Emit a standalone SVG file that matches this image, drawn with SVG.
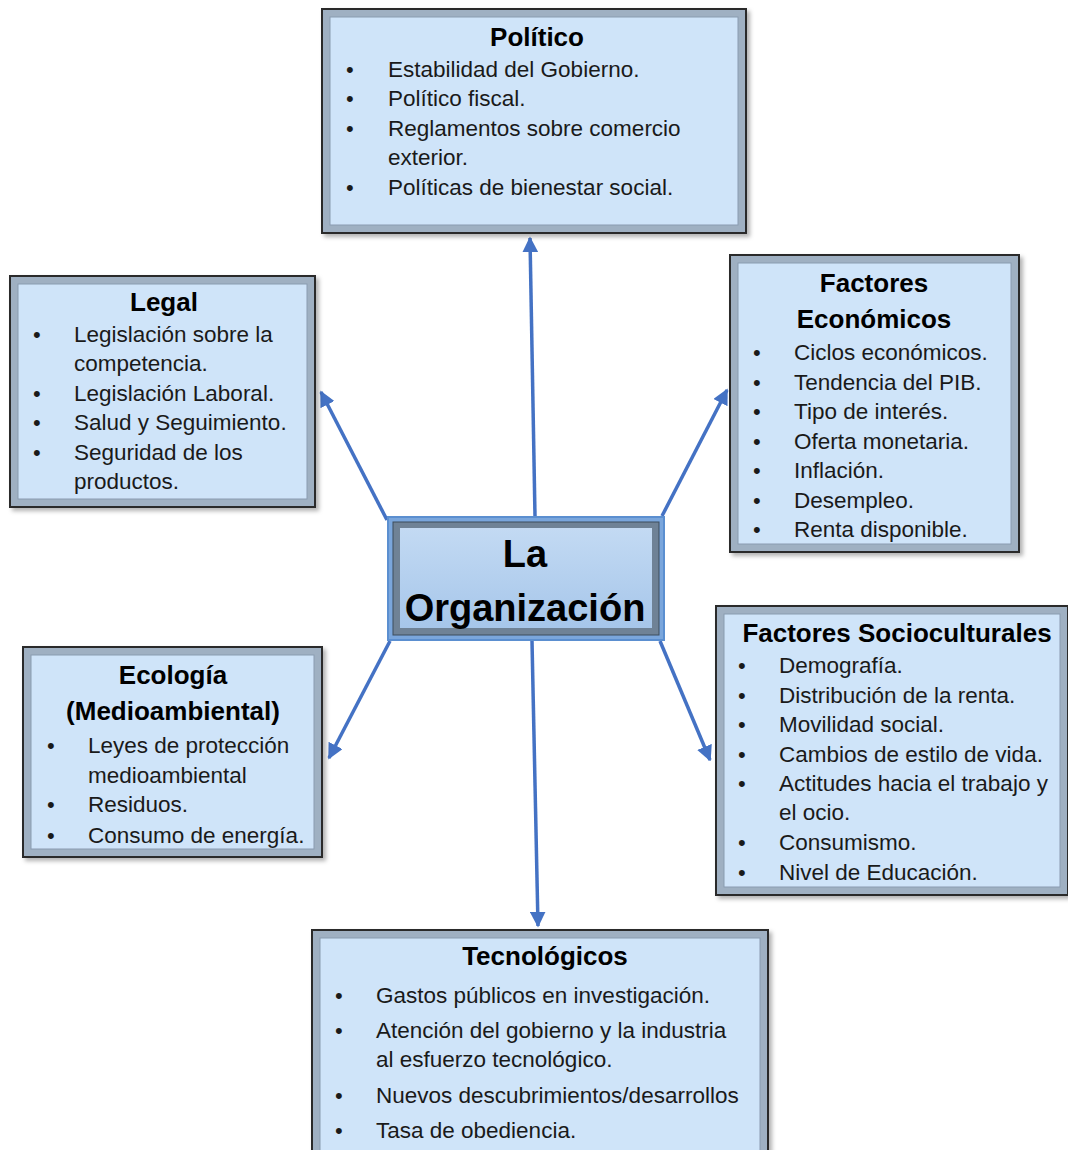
<svg xmlns="http://www.w3.org/2000/svg" width="1068" height="1150" viewBox="0 0 1068 1150">
<defs>
<style>
.outer{fill:#9fb0c2;stroke:#2b2b2b;stroke-width:2}
.inner{fill:#cfe4f9;stroke:#8a9bb0;stroke-width:1}
.t{font-family:"Liberation Sans",Arial,sans-serif;font-size:22.5px;fill:#1a1a1a}
.h{font-family:"Liberation Sans",Arial,sans-serif;font-size:26px;font-weight:bold;fill:#000;text-anchor:middle}
.b{font-family:"Liberation Sans",Arial,sans-serif;font-size:22px;fill:#1a1a1a}
.o{font-family:"Liberation Sans",Arial,sans-serif;font-size:38px;font-weight:bold;fill:#000;text-anchor:middle}
.c{stroke:#4472c4;stroke-width:3.5;fill:none;marker-end:url(#ah)}
</style>
<marker id="ah" viewBox="0 0 10 10" refX="9" refY="5" markerWidth="4.5" markerHeight="4.5" orient="auto" markerUnits="strokeWidth">
<path d="M0,0 L10,5 L0,10 z" fill="#4472c4"/>
</marker>
<linearGradient id="cg" x1="0" y1="0" x2="0" y2="1">
<stop offset="0" stop-color="#c3daf3"/>
<stop offset="1" stop-color="#a6c6ea"/>
</linearGradient>
<filter id="sh" x="-5%" y="-5%" width="112%" height="112%">
<feDropShadow dx="3" dy="3" stdDeviation="2" flood-color="#000" flood-opacity="0.3"/>
</filter>
</defs>
<g id="connectors">
<line class="c" x1="535" y1="516" x2="530" y2="238"/>
<line class="c" x1="387" y1="520" x2="321" y2="392"/>
<line class="c" x1="662" y1="516" x2="727" y2="390"/>
<line class="c" x1="390" y1="641" x2="329" y2="758"/>
<line class="c" x1="660" y1="641" x2="710" y2="760"/>
<line class="c" x1="532" y1="641" x2="538" y2="926"/>
</g>
<g id="politico">
<rect class="outer" x="322" y="9" width="424" height="224" filter="url(#sh)"/>
<rect class="inner" x="330" y="17" width="408" height="208"/>
<text class="h" x="537" y="46">Político</text>
<text class="b" x="346" y="77">•</text><text class="t" x="388" y="77">Estabilidad del Gobierno.</text>
<text class="b" x="346" y="106">•</text><text class="t" x="388" y="106">Político fiscal.</text>
<text class="b" x="346" y="136">•</text><text class="t" x="388" y="136">Reglamentos sobre comercio</text>
<text class="t" x="388" y="165">exterior.</text>
<text class="b" x="346" y="195">•</text><text class="t" x="388" y="195">Políticas de bienestar social.</text>
</g>
<g id="legal">
<rect class="outer" x="10" y="276" width="305" height="231" filter="url(#sh)"/>
<rect class="inner" x="18" y="284" width="289" height="215"/>
<text class="h" x="164" y="311">Legal</text>
<text class="b" x="33" y="342">•</text><text class="t" x="74" y="342">Legislación sobre la</text>
<text class="t" x="74" y="371">competencia.</text>
<text class="b" x="33" y="401">•</text><text class="t" x="74" y="401">Legislación Laboral.</text>
<text class="b" x="33" y="430">•</text><text class="t" x="74" y="430">Salud y Seguimiento.</text>
<text class="b" x="33" y="460">•</text><text class="t" x="74" y="460">Seguridad de los</text>
<text class="t" x="74" y="489">productos.</text>
</g>
<g id="economicos">
<rect class="outer" x="730" y="255" width="289" height="297" filter="url(#sh)"/>
<rect class="inner" x="738" y="263" width="273" height="281"/>
<text class="h" x="874" y="292">Factores</text>
<text class="h" x="874" y="328">Económicos</text>
<text class="b" x="753" y="360">•</text><text class="t" x="794" y="360">Ciclos económicos.</text>
<text class="b" x="753" y="390">•</text><text class="t" x="794" y="390">Tendencia del PIB.</text>
<text class="b" x="753" y="419">•</text><text class="t" x="794" y="419">Tipo de interés.</text>
<text class="b" x="753" y="449">•</text><text class="t" x="794" y="449">Oferta monetaria.</text>
<text class="b" x="753" y="478">•</text><text class="t" x="794" y="478">Inflación.</text>
<text class="b" x="753" y="508">•</text><text class="t" x="794" y="508">Desempleo.</text>
<text class="b" x="753" y="537">•</text><text class="t" x="794" y="537">Renta disponible.</text>
</g>
<g id="organizacion">
<rect x="388" y="517" width="276" height="123" fill="#7aa6dc" stroke="#5b8fd0" stroke-width="2"/>
<rect x="393" y="522" width="266" height="113" fill="#6f8296" stroke="#3d4c5c" stroke-width="1"/>
<rect x="400" y="528" width="252" height="100" fill="url(#cg)"/>
<text class="o" x="525" y="567">La</text>
<text class="o" x="525" y="621">Organización</text>
</g>
<g id="ecologia">
<rect class="outer" x="23" y="647" width="299" height="210" filter="url(#sh)"/>
<rect class="inner" x="31" y="655" width="283" height="194"/>
<text class="h" x="173" y="684">Ecología</text>
<text class="h" x="173" y="720">(Medioambiental)</text>
<text class="b" x="47" y="753">•</text><text class="t" x="88" y="753">Leyes de protección</text>
<text class="t" x="88" y="783">medioambiental</text>
<text class="b" x="47" y="812">•</text><text class="t" x="88" y="812">Residuos.</text>
<text class="b" x="47" y="843">•</text><text class="t" x="88" y="843">Consumo de energía.</text>
</g>
<g id="socioculturales">
<rect class="outer" x="716" y="606" width="352" height="289" filter="url(#sh)"/>
<rect class="inner" x="724" y="614" width="336" height="273"/>
<text class="h" x="897" y="642">Factores Socioculturales</text>
<text class="b" x="738" y="673">•</text><text class="t" x="779" y="673">Demografía.</text>
<text class="b" x="738" y="703">•</text><text class="t" x="779" y="703">Distribución de la renta.</text>
<text class="b" x="738" y="732">•</text><text class="t" x="779" y="732">Movilidad social.</text>
<text class="b" x="738" y="762">•</text><text class="t" x="779" y="762">Cambios de estilo de vida.</text>
<text class="b" x="738" y="791">•</text><text class="t" x="779" y="791">Actitudes hacia el trabajo y</text>
<text class="t" x="779" y="820">el ocio.</text>
<text class="b" x="738" y="850">•</text><text class="t" x="779" y="850">Consumismo.</text>
<text class="b" x="738" y="880">•</text><text class="t" x="779" y="880">Nivel de Educación.</text>
</g>
<g id="tecnologicos">
<rect class="outer" x="312" y="930" width="456" height="226" filter="url(#sh)"/>
<rect class="inner" x="320" y="938" width="440" height="218"/>
<text class="h" x="545" y="965">Tecnológicos</text>
<text class="b" x="335" y="1003">•</text><text class="t" x="376" y="1003">Gastos públicos en investigación.</text>
<text class="b" x="335" y="1038">•</text><text class="t" x="376" y="1038">Atención del gobierno y la industria</text>
<text class="t" x="376" y="1067">al esfuerzo tecnológico.</text>
<text class="b" x="335" y="1103">•</text><text class="t" x="376" y="1103">Nuevos descubrimientos/desarrollos</text>
<text class="b" x="335" y="1138">•</text><text class="t" x="376" y="1138">Tasa de obediencia.</text>
</g>
</svg>
